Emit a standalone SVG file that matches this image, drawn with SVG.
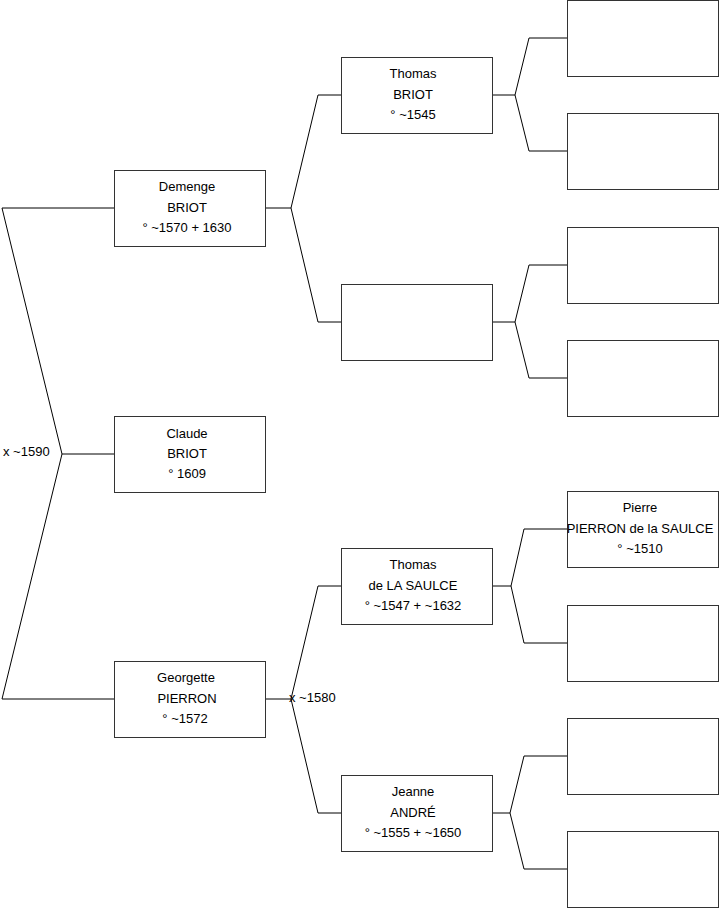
<svg xmlns="http://www.w3.org/2000/svg" width="719" height="908" viewBox="0 0 719 908">
<style>
.box{fill:#fff;stroke:#333;stroke-width:1}
.c{fill:none;stroke:#000;stroke-width:1}
text{font-family:"Liberation Sans",Arial,sans-serif;font-size:13px;fill:#000}
.m{text-anchor:middle}
</style>
<rect width="719" height="908" fill="#fff"/>
<g id="connectors">
<polyline class="c" points="114,208 2,208 62,454 2,699 114,699"/>
<polyline class="c" points="62,454 114,454"/>
<polyline class="c" points="341,95 318,95 291,208 318,322 341,322"/>
<polyline class="c" points="265,208 291,208"/>
<polyline class="c" points="341,586 318,586 291,699 318,813 341,813"/>
<polyline class="c" points="265,699 291,699"/>
<polyline class="c" points="567,38 529,38 515,95 529,151 567,151"/>
<polyline class="c" points="492,95 515,95"/>
<polyline class="c" points="567,265 529,265 515,322 529,378 567,378"/>
<polyline class="c" points="492,322 515,322"/>
<polyline class="c" points="567,529 524,529 511,586 524,643 567,643"/>
<polyline class="c" points="492,586 511,586"/>
<polyline class="c" points="567,756 524,756 510,813 524,869 567,869"/>
<polyline class="c" points="492,813 510,813"/>
<text x="3" y="456">x ~1590</text>
<text x="289" y="702">x ~1580</text>
</g>
<g id="demenge"><rect class="box" x="114.5" y="170.5" width="151" height="76"/>
<text class="m" x="187" y="191">Demenge</text><text class="m" x="187" y="212">BRIOT</text><text class="m" x="187" y="232">° ~1570 + 1630</text></g>
<g id="claude"><rect class="box" x="114.5" y="416.5" width="151" height="76"/>
<text class="m" x="187" y="438">Claude</text><text class="m" x="187" y="458">BRIOT</text><text class="m" x="187" y="478">° 1609</text></g>
<g id="georgette"><rect class="box" x="114.5" y="661.5" width="151" height="76"/>
<text class="m" x="186" y="682">Georgette</text><text class="m" x="187" y="703">PIERRON</text><text class="m" x="185" y="723">° ~1572</text></g>
<g id="thomas-briot"><rect class="box" x="341.5" y="57.5" width="151" height="76"/>
<text class="m" x="413" y="78">Thomas</text><text class="m" x="413" y="99">BRIOT</text><text class="m" x="413" y="119">° ~1545</text></g>
<g id="unknown-2"><rect class="box" x="341.5" y="284.5" width="151" height="76"/></g>
<g id="thomas-lasaulce"><rect class="box" x="341.5" y="548.5" width="151" height="76"/>
<text class="m" x="413" y="569">Thomas</text><text class="m" x="413" y="590">de LA SAULCE</text><text class="m" x="413" y="610">° ~1547 + ~1632</text></g>
<g id="jeanne"><rect class="box" x="341.5" y="775.5" width="151" height="76"/>
<text class="m" x="413" y="796">Jeanne</text><text class="m" x="413" y="817">ANDRÉ</text><text class="m" x="413" y="837">° ~1555 + ~1650</text></g>
<g id="g3-1"><rect class="box" x="567.5" y="0.5" width="151" height="76"/></g>
<g id="g3-2"><rect class="box" x="567.5" y="113.5" width="151" height="76"/></g>
<g id="g3-3"><rect class="box" x="567.5" y="227.5" width="151" height="76"/></g>
<g id="g3-4"><rect class="box" x="567.5" y="340.5" width="151" height="76"/></g>
<g id="pierre"><rect class="box" x="567.5" y="491.5" width="151" height="76"/>
<text class="m" x="640" y="512">Pierre</text><text class="m" x="640" y="533">PIERRON de la SAULCE</text><text class="m" x="640" y="553">° ~1510</text></g>
<g id="g3-6"><rect class="box" x="567.5" y="605.5" width="151" height="76"/></g>
<g id="g3-7"><rect class="box" x="567.5" y="718.5" width="151" height="76"/></g>
<g id="g3-8"><rect class="box" x="567.5" y="831.5" width="151" height="76"/></g>
</svg>
